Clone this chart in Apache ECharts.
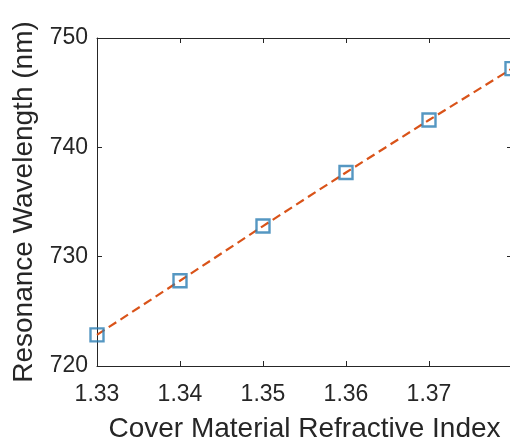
<!DOCTYPE html>
<html><head><meta charset="utf-8">
<script src="https://cdn.jsdelivr.net/npm/echarts@6/dist/echarts.min.js"></script>
<style>html,body{margin:0;padding:0;background:#fff}#c{width:510px;height:446px}</style>
</head><body><div id="c"></div>
<script>
const refractiveIndex = [1.33, 1.34, 1.35, 1.36, 1.37, 1.38];
const wavelength = [722.85, 727.8, 732.8, 737.7, 742.5, 747.2];
const xTicks = [1.33, 1.34, 1.35, 1.36, 1.37];
const yTicks = [720, 730, 740, 750];

const pts = refractiveIndex.map((x, i) => [x, wavelength[i]]);
const axisCol = '#262626';
const font = "'Liberation Sans', Arial, sans-serif";
const chart = echarts.init(document.getElementById('c'), null, {renderer: 'canvas'});
const baseX = {
  type: 'value', min: 1.33, max: 1.38, interval: 0.01,
  axisLine: {show: true, lineStyle: {color: axisCol, width: 1}},
  axisTick: {show: true, inside: true, length: 5, lineStyle: {color: axisCol}},
  splitLine: {show: false}
};
const baseY = {
  type: 'value', min: 720, max: 750, interval: 10,
  axisLine: {show: true, lineStyle: {color: axisCol, width: 1}},
  axisTick: {show: true, inside: true, length: 5, lineStyle: {color: axisCol}},
  splitLine: {show: false}
};
chart.setOption({
  animation: false,
  grid: {left: 97, top: 38, right: -2, bottom: 80, containLabel: false, outerBoundsMode: 'none'},
  xAxis: [
    Object.assign({}, baseX, {
      position: 'bottom',
      name: 'Cover Material Refractive Index', nameLocation: 'middle', nameGap: 49,
      nameTextStyle: {color: axisCol, fontSize: 28, fontFamily: font},
      axisLabel: {color: axisCol, fontSize: 23, fontFamily: font, margin: 17,
        formatter: v => xTicks.some(t => Math.abs(t - v) < 1e-9) ? v.toFixed(2) : ''}
    }),
    Object.assign({}, baseX, {position: 'top', axisLabel: {show: false}})
  ],
  yAxis: [
    Object.assign({}, baseY, {
      position: 'left',
      name: 'Resonance Wavelength (nm)', nameLocation: 'middle', nameGap: 57,
      nameTextStyle: {color: axisCol, fontSize: 28, fontFamily: font},
      axisLabel: {color: axisCol, fontSize: 23, fontFamily: font, margin: 9,
        formatter: v => yTicks.includes(v) ? String(v) : ''}
    }),
    Object.assign({}, baseY, {position: 'right', axisLabel: {show: false}})
  ],
  series: [
    {type: 'line', data: pts, showSymbol: false, symbol: 'none',
     lineStyle: {color: '#D95319', width: 2.2, type: [9, 5]}, z: 2},
    {type: 'scatter', data: pts, symbol: 'rect', symbolSize: 13,
     itemStyle: {color: 'rgba(0,0,0,0)', borderColor: '#2a7db3', borderWidth: 2.4}, z: 3}
  ]
});
</script></body></html>
